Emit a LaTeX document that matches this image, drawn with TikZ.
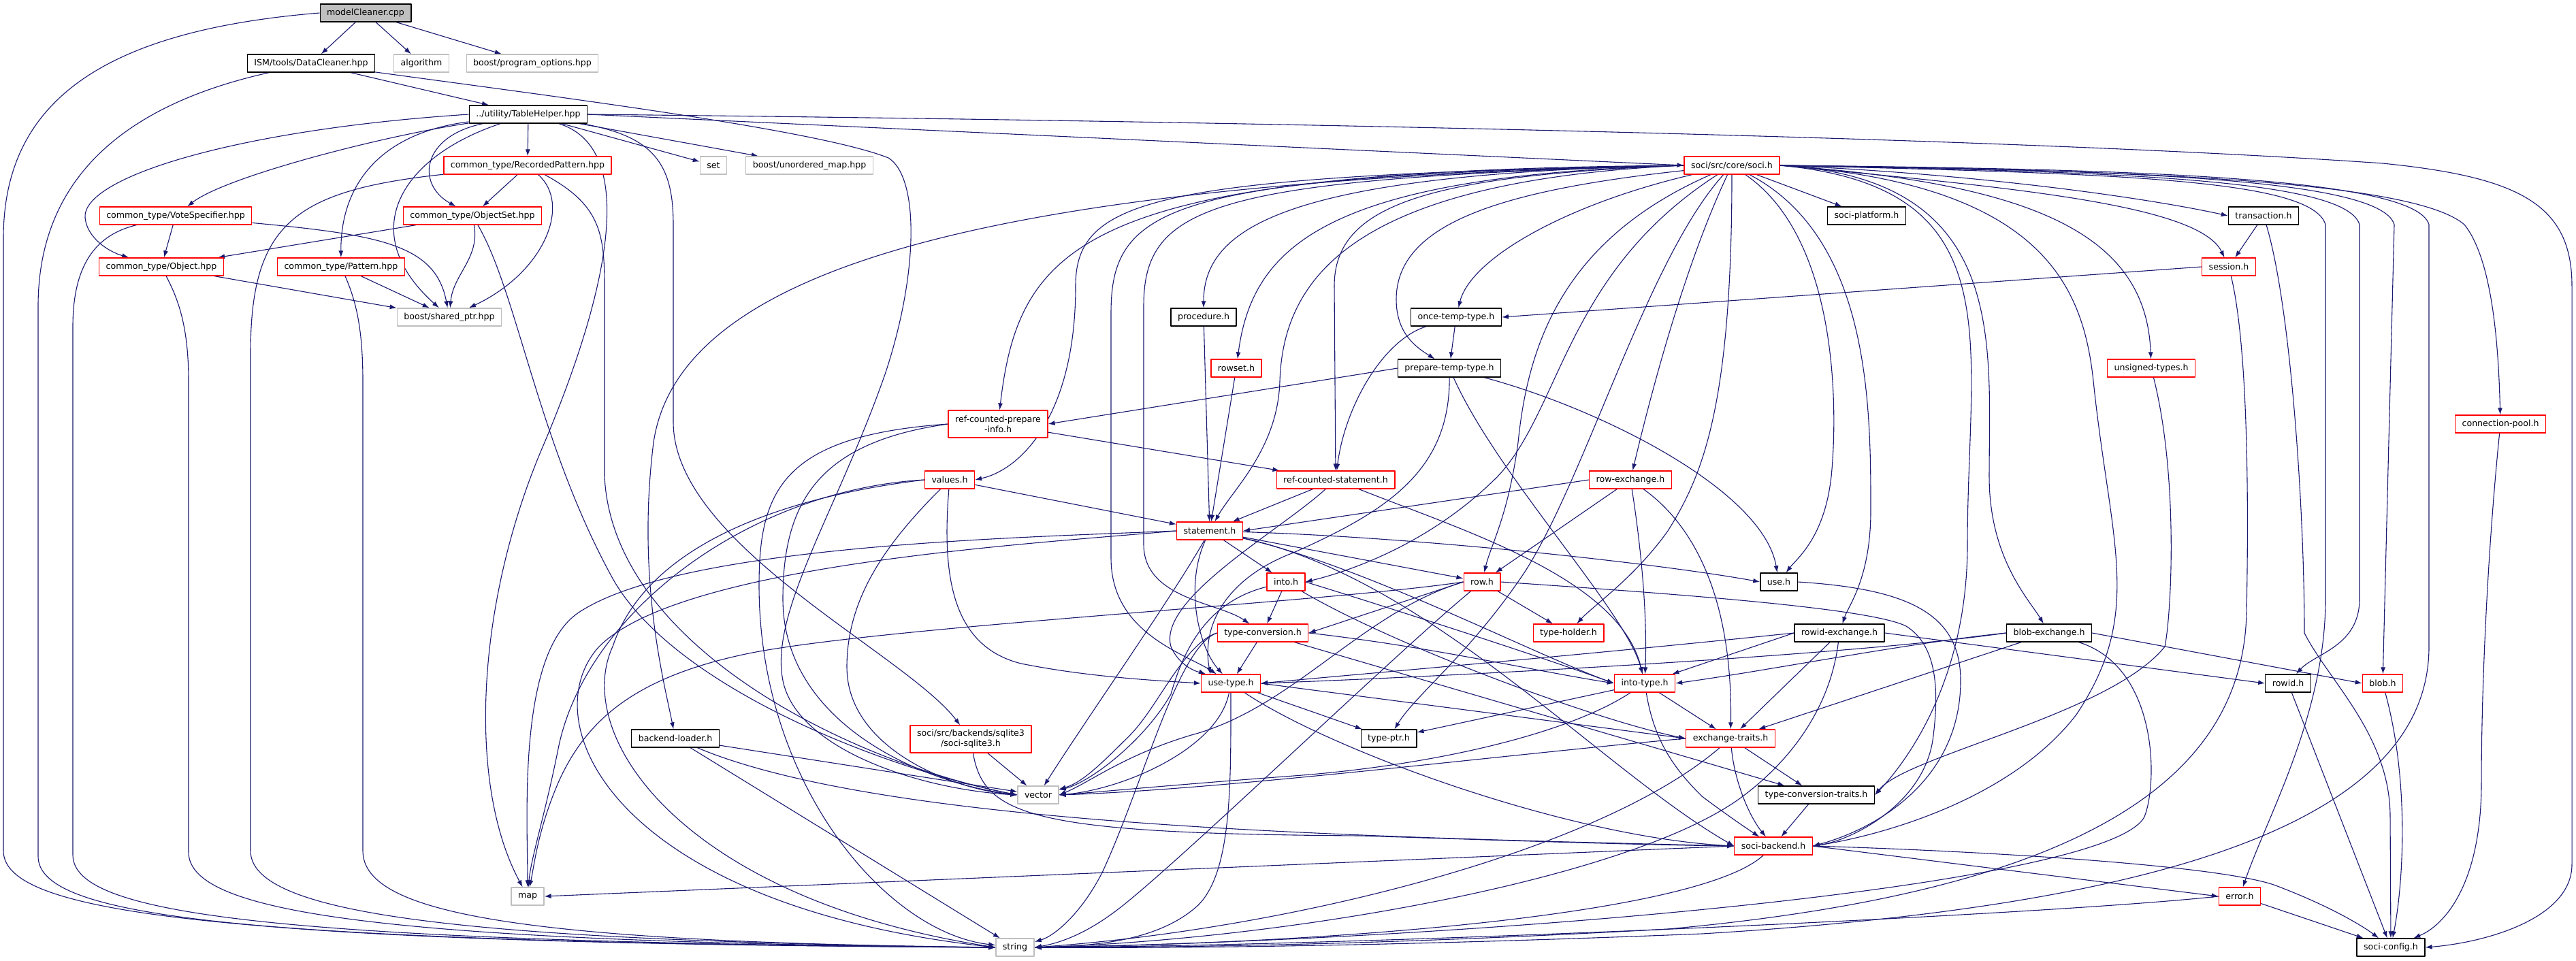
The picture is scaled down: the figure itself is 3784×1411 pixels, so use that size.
\documentclass[tikz,border=0pt]{standalone}
\usepackage{fontspec}
\setmainfont{DejaVu Sans}
\usetikzlibrary{arrows.meta}
\definecolor{incblue}{RGB}{25,25,112}
\pgfdeclarelayer{edges}
\pgfsetlayers{edges,main}
\begin{document}
\begin{tikzpicture}[x=1pt, y=-1pt, line join=round, line cap=round, >={Latex[length=10pt,width=7pt]},
  hdr/.style={draw=black, fill=white, line width=1.3pt, minimum height=26pt, inner xsep=10pt, inner ysep=0pt, font=\fontsize{12.6}{15}\selectfont},
  trunc/.style={hdr, draw=red},
  sys/.style={hdr, draw=gray!50},
  root/.style={hdr, fill=gray!50},
  twoline/.style={align=center, minimum height=40pt},
  incl/.style={->, draw=incblue, line width=1.1pt}]
\useasboundingbox (0,0) rectangle (3784,1411);
% files
\node[root] (mc) at (537,19) {modelCleaner.cpp};
\node[hdr] (dc) at (457,93) {ISM/tools/DataCleaner.hpp};
\node[sys] (alg) at (619,93) {algorithm};
\node[sys] (po) at (782,93) {boost/program\_options.hpp};
\node[hdr] (th) at (776,168) {../utility/TableHelper.hpp};
\node[trunc] (rp) at (775,243) {common\_type/RecordedPattern.hpp};
\node[sys] (setn) at (1048,243) {set};
\node[sys] (um) at (1189,243) {boost/unordered\_map.hpp};
\node[trunc] (soci) at (2544,243) {soci/src/core/soci.h};
\node[trunc] (vs) at (258,317) {common\_type/VoteSpecifier.hpp};
\node[trunc] (os) at (694,317) {common\_type/ObjectSet.hpp};
\node[hdr] (plat) at (2742,317) {soci-platform.h};
\node[hdr] (trans) at (3325,317) {transaction.h};
\node[trunc] (obj) at (237,392) {common\_type/Object.hpp};
\node[trunc] (pat) at (501,392) {common\_type/Pattern.hpp};
\node[trunc] (sess) at (3274,392) {session.h};
\node[sys] (sp) at (660,466) {boost/shared\_ptr.hpp};
\node[hdr] (proc) at (1768,466) {procedure.h};
\node[hdr] (once) at (2139,466) {once-temp-type.h};
\node[trunc] (rowset) at (1816,541) {rowset.h};
\node[hdr] (prep) at (2129,541) {prepare-temp-type.h};
\node[trunc] (unsig) at (3160,541) {unsigned-types.h};
\node[trunc, twoline] (rcpi) at (1466,623) {ref-counted-prepare\\-info.h};
\node[trunc] (pool) at (3673,623) {connection-pool.h};
\node[trunc] (values) at (1395,705) {values.h};
\node[trunc] (rcs) at (1962,705) {ref-counted-statement.h};
\node[trunc] (rowex) at (2395,705) {row-exchange.h};
\node[trunc] (stmt) at (1777,780) {statement.h};
\node[trunc] (into) at (1889,855) {into.h};
\node[trunc] (row) at (2177,855) {row.h};
\node[hdr] (use) at (2613,855) {use.h};
\node[trunc] (tconv) at (1855,930) {type-conversion.h};
\node[trunc] (thold) at (2304,930) {type-holder.h};
\node[hdr] (ridex) at (2702,930) {rowid-exchange.h};
\node[hdr] (blobex) at (3010,930) {blob-exchange.h};
\node[trunc] (usetype) at (1808,1004) {use-type.h};
\node[trunc] (intotype) at (2416,1004) {into-type.h};
\node[hdr] (rowid) at (3361,1004) {rowid.h};
\node[trunc] (blob) at (3500,1004) {blob.h};
\node[hdr] (bl) at (992,1085) {backend-loader.h};
\node[trunc, twoline] (sqlite) at (1426,1086) {soci/src/backends/sqlite3\\/soci-sqlite3.h};
\node[hdr] (tptr) at (2040,1085) {type-ptr.h};
\node[trunc] (extr) at (2542,1085) {exchange-traits.h};
\node[sys] (vector) at (1525,1168) {vector};
\node[hdr] (tct) at (2668,1168) {type-conversion-traits.h};
\node[trunc] (backend) at (2605,1243) {soci-backend.h};
\node[sys] (map) at (775,1317) {map};
\node[trunc] (error) at (3290,1317) {error.h};
\node[sys] (string) at (1491,1392) {string};
\node[hdr] (config) at (3512,1392) {soci-config.h};
\begin{pgfonlayer}{edges}
% modelCleaner.cpp
\draw[incl] (mc) -- (dc);
\draw[incl] (mc) -- (alg);
\draw[incl] (mc) -- (po);
\draw[incl] (mc.west) .. controls (150,45) and (5,150) .. (5,350) -- (5,1250) .. controls (5,1340) and (300,1385) .. (string.west);
% DataCleaner.hpp
\draw[incl] (dc) -- (th);
\draw[incl] (dc) .. controls (200,150) and (56,250) .. (56,450) -- (56,1258) .. controls (56,1345) and (330,1386) .. (string.west);
\draw[incl] (dc) .. controls (800,140) and (1200,190) .. (1305,232) .. controls (1350,260) and (1350,400) .. (1300,550) .. controls (1230,750) and (1130,900) .. (1150,1000) .. controls (1170,1100) and (1350,1160) .. (vector.west);
% TableHelper.hpp
\draw[incl] (th) -- (rp);
\draw[incl] (th) .. controls (560,200) and (330,260) .. (vs);
\draw[incl] (th.west) .. controls (350,190) and (120,260) .. (125,320) .. controls (128,350) and (160,370) .. (obj);
\draw[incl] (th) .. controls (620,200) and (610,270) .. (os);
\draw[incl] (th) .. controls (560,195) and (500,270) .. (pat);
\draw[incl] (th) .. controls (590,230) and (520,340) .. (sp);
\draw[incl] (th) -- (setn);
\draw[incl] (th) -- (um);
\draw[incl] (th.east) -- (soci.west);
\draw[incl] (th.east) .. controls (2000,180) and (3000,205) .. (3500,240) .. controls (3700,260) and (3778,300) .. (3778,420) -- (3778,1270) .. controls (3778,1350) and (3650,1385) .. (config.east);
\draw[incl] (th) .. controls (930,215) and (905,400) .. (800,650) .. controls (700,880) and (685,1150) .. (map);
\draw[incl] (th) .. controls (960,200) and (989,240) .. (989,330) -- (989,620) .. controls (989,800) and (1330,960) .. (sqlite);
% common_type
\draw[incl] (rp) -- (os);
\draw[incl] (rp) .. controls (840,300) and (800,400) .. (sp);
\draw[incl] (rp) .. controls (430,280) and (368,330) .. (368,520) -- (368,1250) .. controls (368,1340) and (650,1382) .. (string.west);
\draw[incl] (rp) .. controls (880,300) and (888,340) .. (888,420) -- (888,700) .. controls (900,950) and (1250,1120) .. (vector.west);
\draw[incl] (vs) -- (obj);
\draw[incl] (vs) .. controls (560,345) and (640,360) .. (sp);
\draw[incl] (vs) .. controls (140,345) and (107,390) .. (107,480) -- (107,1256) .. controls (107,1342) and (380,1384) .. (string.west);
\draw[incl] (os) -- (obj);
\draw[incl] (os) to[out=-80,in=85] (sp);
\draw[incl] (os) .. controls (760,430) and (790,650) .. (900,850) .. controls (990,1010) and (1300,1130) .. (vector.west);
\draw[incl] (obj) -- (sp);
\draw[incl] (obj) .. controls (262,440) and (277,480) .. (277,560) -- (277,1252) .. controls (277,1340) and (550,1384) .. (string.west);
\draw[incl] (pat) -- (sp);
\draw[incl] (pat) .. controls (522,440) and (533,480) .. (533,560) -- (533,1250) .. controls (533,1340) and (750,1384) .. (string.west);
% soci.h
\draw[incl] (soci) -- (plat);
\draw[incl] (soci.east) .. controls (2900,255) and (3150,290) .. (trans.west);
\draw[incl] (soci.east) .. controls (2950,275) and (3230,300) .. (sess);
\draw[incl] (soci.east) .. controls (3200,250) and (3550,270) .. (3620,330) .. controls (3660,380) and (3670,500) .. (pool);
\draw[incl] (soci.east) .. controls (3000,270) and (3153,350) .. (unsig);
\draw[incl] (soci.east) .. controls (2950,262) and (2922,500) .. (2922,700) .. controls (2922,820) and (2980,880) .. (blobex);
\draw[incl] (soci.east) .. controls (2960,275) and (2890,500) .. (2890,800) .. controls (2890,1000) and (2800,1120) .. (tct.east);
\draw[incl] (soci.east) .. controls (3000,270) and (3060,420) .. (3075,560) .. controls (3100,800) and (3150,900) .. (3050,1050) .. controls (2950,1180) and (2750,1230) .. (backend.east);
\draw[incl] (soci.east) .. controls (3100,255) and (3396,262) .. (3416,330) -- (3416,880) .. controls (3416,1050) and (3330,1200) .. (error);
\draw[incl] (soci.east) .. controls (3100,252) and (3446,262) .. (3466,330) -- (3466,880) .. controls (3466,950) and (3400,960) .. (rowid);
\draw[incl] (soci.east) .. controls (3100,250) and (3497,260) .. (3517,330) -- (blob);
\draw[incl] (soci.east) .. controls (3100,248) and (3548,258) .. (3568,330) -- (3568,950) .. controls (3568,1200) and (3200,1330) .. (2500,1372) .. controls (2000,1392) and (1700,1393) .. (string.east);
\draw[incl] (soci.west) .. controls (1900,255) and (1768,330) .. (proc);
\draw[incl] (soci.west) .. controls (1950,258) and (1840,360) .. (rowset);
\draw[incl] (soci.west) .. controls (1600,250) and (1498,350) .. (rcpi);
\draw[incl] (soci.west) .. controls (1700,258) and (1580,290) .. (1580,420) .. controls (1580,610) and (1500,690) .. (values.east);
\draw[incl] (soci.west) .. controls (2100,258) and (1960,300) .. (1960,420) -- (rcs);
\draw[incl] (soci.west) .. controls (2000,265) and (1885,400) .. (1880,560) .. controls (1877,660) and (1810,720) .. (stmt);
\draw[incl] (soci.west) .. controls (1780,262) and (1680,300) .. (1680,450) -- (1680,800) .. controls (1680,880) and (1790,885) .. (tconv);
\draw[incl] (soci.west) .. controls (1720,258) and (1632,300) .. (1632,460) -- (1632,820) .. controls (1632,930) and (1740,960) .. (usetype);
\draw[incl] (soci.west) .. controls (1500,265) and (1000,380) .. (960,650) .. controls (935,850) and (975,1000) .. (bl);
\draw[incl] (soci) .. controls (2300,300) and (2160,380) .. (once);
\draw[incl] (soci) .. controls (2200,280) and (2051,330) .. (2051,440) .. controls (2051,490) and (2080,510) .. (prep);
\draw[incl] (soci) .. controls (2300,400) and (2294,600) .. (2200,700) .. controls (2100,800) and (1980,840) .. (into.east);
\draw[incl] (soci) .. controls (2300,350) and (2245,500) .. (2230,650) .. controls (2215,760) and (2190,800) .. (row);
\draw[incl] (soci) .. controls (2700,350) and (2700,600) .. (2690,700) .. controls (2680,790) and (2640,820) .. (use);
\draw[incl] (soci) .. controls (2470,400) and (2420,600) .. (rowex);
\draw[incl] (soci) .. controls (2544,600) and (2500,700) .. (2450,780) .. controls (2400,850) and (2340,890) .. (thold);
\draw[incl] (soci) .. controls (2420,380) and (2330,700) .. (2240,840) .. controls (2160,960) and (2080,1020) .. (tptr);
\draw[incl] (soci) .. controls (2748,350) and (2748,600) .. (2748,750) .. controls (2748,850) and (2715,890) .. (ridex);
% second level
\draw[incl] (trans) -- (sess);
\draw[incl] (trans) .. controls (3365,450) and (3385,750) .. (3385,930) .. controls (3420,1000) and (3511,1080) .. (3511,1200) -- (config);
\draw[incl] (sess.west) -- (once.east);
\draw[incl] (sess) .. controls (3300,500) and (3304,700) .. (3300,900) .. controls (3295,1150) and (3050,1310) .. (2450,1365) .. controls (2000,1390) and (1700,1392) .. (string.east);
\draw[incl] (proc) -- (stmt);
\draw[incl] (once) -- (prep);
\draw[incl] (once) .. controls (2030,500) and (1975,600) .. (rcs);
\draw[incl] (rowset) -- (stmt);
\draw[incl] (prep.west) -- (rcpi.east);
\draw[incl] (prep) .. controls (2350,600) and (2590,720) .. (use);
\draw[incl] (prep) .. controls (2200,700) and (2390,900) .. (intotype);
\draw[incl] (prep) .. controls (2130,690) and (2040,750) .. (1900,812) .. controls (1800,850) and (1765,920) .. ([xshift=14pt]usetype.north west);
\draw[incl] (unsig) .. controls (3200,700) and (3190,900) .. (3180,950) .. controls (3100,1050) and (2800,1110) .. (tct.east);
\draw[incl] (pool) .. controls (3655,800) and (3645,1000) .. (3645,1150) .. controls (3645,1300) and (3590,1360) .. (config);
\draw[incl] (rcpi) -- (rcs);
\draw[incl] (rcpi.west) .. controls (1150,640) and (1115,720) .. (1115,860) .. controls (1115,1150) and (1300,1370) .. (string);
\draw[incl] (rcpi.west) .. controls (1200,650) and (1150,740) .. (1150,880) .. controls (1150,1060) and (1350,1150) .. (vector.west);
\draw[incl] (values) -- (stmt);
\draw[incl] (values.west) .. controls (1100,720) and (860,900) .. (820,1100) .. controls (800,1200) and (780,1260) .. (map);
\draw[incl] (values.west) .. controls (1150,730) and (950,800) .. (900,950) .. controls (840,1080) and (1000,1320) .. (string.west);
\draw[incl] (values) .. controls (1300,800) and (1244,880) .. (1244,980) .. controls (1244,1100) and (1400,1160) .. (vector.west);
\draw[incl] (values) .. controls (1383,850) and (1400,950) .. (1500,975) .. controls (1600,995) and (1700,1000) .. (usetype.west);
\draw[incl] (rcs) -- (stmt);
\draw[incl] (rcs) .. controls (1880,780) and (1700,880) .. (1720,950) .. controls (1735,985) and (1770,990) .. (usetype);
\draw[incl] (rcs) .. controls (2150,780) and (2380,850) .. (intotype);
\draw[incl] (rowex.west) -- (stmt.east);
\draw[incl] (rowex) -- (row);
\draw[incl] (rowex) .. controls (2410,800) and (2420,900) .. (intotype);
\draw[incl] (rowex) .. controls (2500,780) and (2545,900) .. (extr);
% statement.h and below
\draw[incl] (stmt) -- (into);
\draw[incl] (stmt) -- (row);
\draw[incl] (stmt) .. controls (2100,790) and (2450,830) .. (use.west);
\draw[incl] (stmt) .. controls (2000,830) and (2250,960) .. (intotype.west);
\draw[incl] (stmt) .. controls (1740,860) and (1760,950) .. (usetype);
\draw[incl] (stmt) .. controls (2100,850) and (2350,1130) .. (backend.west);
\draw[incl] (stmt.west) .. controls (1500,800) and (1000,830) .. (880,950) .. controls (780,1060) and (900,1330) .. (string.west);
\draw[incl] (stmt.west) .. controls (1500,790) and (1000,800) .. (850,900) .. controls (760,960) and (775,1200) .. (map);
\draw[incl] (stmt) .. controls (1720,880) and (1600,1050) .. (vector);
\draw[incl] (into) -- (tconv);
\draw[incl] (into.east) .. controls (2000,880) and (2250,960) .. (intotype.west);
\draw[incl] (into) .. controls (2050,950) and (2350,1060) .. (extr.west);
\draw[incl] (into) .. controls (1790,880) and (1745,930) .. (1720,1020) .. controls (1680,1090) and (1600,1150) .. (vector);
\draw[incl] (row) -- (thold);
\draw[incl] (row.west) -- (tconv.east);
\draw[incl] (row.west) .. controls (1950,885) and (1300,920) .. (1100,960) .. controls (930,995) and (860,1060) .. (820,1150) .. controls (790,1220) and (785,1270) .. (map);
\draw[incl] (row) .. controls (2050,960) and (1750,1250) .. (1650,1330) .. controls (1600,1370) and (1560,1385) .. (string.east);
\draw[incl] (row.west) .. controls (2000,900) and (1900,1040) .. (1750,1080) .. controls (1650,1110) and (1600,1150) .. (vector.east);
\draw[incl] (row.east) .. controls (2500,875) and (2750,895) .. (2800,920) .. controls (2840,945) and (2850,1000) .. (2840,1080) .. controls (2830,1180) and (2720,1235) .. (backend.east);
\draw[incl] (use.east) .. controls (2800,865) and (2880,900) .. (2880,1000) .. controls (2880,1150) and (2750,1220) .. (backend.east);
\draw[incl] (tconv) -- (usetype);
\draw[incl] (tconv.east) .. controls (2100,950) and (2250,985) .. (intotype.west);
\draw[incl] (tconv) -- (tct);
\draw[incl] (tconv.west) .. controls (1740,945) and (1700,1040) .. (1660,1080) .. controls (1620,1120) and (1590,1150) .. (vector);
\draw[incl] (tconv.west) .. controls (1730,950) and (1680,1150) .. (1620,1280) .. controls (1590,1340) and (1550,1375) .. (string);
\draw[incl] (ridex.west) -- (intotype);
\draw[incl] (ridex.west) .. controls (2300,965) and (2000,990) .. (usetype.east);
\draw[incl] (ridex) -- (extr);
\draw[incl] (ridex.east) -- (rowid.west);
\draw[incl] (ridex) .. controls (2690,1030) and (2640,1110) .. (2560,1170) .. controls (2400,1290) and (1900,1380) .. (string.east);
\draw[incl] (blobex.west) .. controls (2800,945) and (2600,985) .. (intotype.east);
\draw[incl] (blobex.west) .. controls (2700,965) and (2100,995) .. (usetype.east);
\draw[incl] (blobex) -- (extr);
\draw[incl] (blobex.east) -- (blob.west);
\draw[incl] (blobex) .. controls (3170,980) and (3170,1150) .. (3150,1200) .. controls (3100,1300) and (2200,1380) .. (string.east);
\draw[incl] (usetype) -- (tptr);
\draw[incl] (usetype.east) -- (extr.west);
\draw[incl] (usetype) .. controls (1950,1100) and (2300,1230) .. (backend.west);
\draw[incl] (usetype) .. controls (1790,1100) and (1650,1160) .. (vector.east);
\draw[incl] (usetype) .. controls (1808,1150) and (1810,1280) .. (1760,1330) .. controls (1700,1385) and (1600,1390) .. (string.east);
\draw[incl] (intotype) -- (tptr);
\draw[incl] (intotype) -- (extr);
\draw[incl] (intotype) .. controls (2430,1090) and (2460,1130) .. (2500,1170) .. controls (2540,1200) and (2570,1220) .. (backend);
\draw[incl] (intotype) .. controls (2300,1080) and (2100,1125) .. (1900,1140) .. controls (1700,1155) and (1600,1165) .. (vector.east);
\draw[incl] (extr) -- (tct);
\draw[incl] (extr) .. controls (2548,1150) and (2570,1200) .. (backend);
\draw[incl] (extr.west) .. controls (2200,1110) and (1800,1160) .. (vector.east);
\draw[incl] (extr) .. controls (2350,1250) and (1900,1365) .. (string.east);
\draw[incl] (tct) -- (backend);
% backends and leaves
\draw[incl] (bl) -- (vector);
\draw[incl] (bl) .. controls (1300,1215) and (2000,1230) .. (backend.west);
\draw[incl] (bl) -- (string);
\draw[incl] (sqlite) -- (vector);
\draw[incl] (sqlite) .. controls (1445,1200) and (1520,1225) .. (2000,1228) .. controls (2300,1238) and (2450,1242) .. (backend.west);
\draw[incl] (backend.east) -- (error.west);
\draw[incl] (backend.east) .. controls (2900,1250) and (3250,1270) .. (3340,1300) .. controls (3420,1330) and (3470,1360) .. (config);
\draw[incl] (backend.west) -- (map.east);
\draw[incl] (backend) .. controls (2500,1340) and (2000,1385) .. (string.east);
\draw[incl] (error) -- (config);
\draw[incl] (error.west) .. controls (3000,1345) and (2000,1390) .. (string.east);
\draw[incl] (rowid) -- (config);
\draw[incl] (blob) .. controls (3540,1150) and (3530,1300) .. (config);
\end{pgfonlayer}
\end{tikzpicture}
\end{document}
